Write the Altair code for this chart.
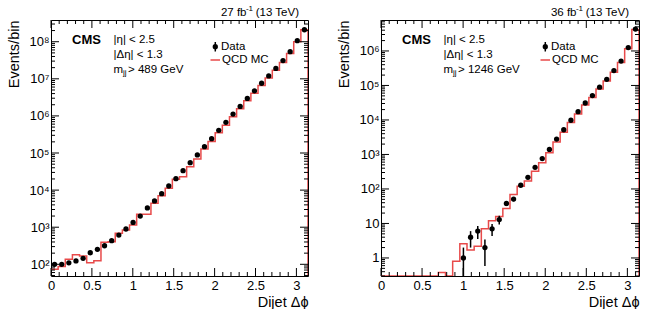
import altair as alt
import numpy as np
import pandas as pd

FONT = "Liberation Sans"
RED = "#e84a4a"

# 36 bins of 5 degrees in dijet delta-phi
N_BINS = 36
edges = np.linspace(0.0, np.pi, N_BINS + 1)
centers = 0.5 * (edges[:-1] + edges[1:])

# m_jj > 489 GeV, 27 fb^-1
low_mass_data = [100, 100, 110, 123, 145, 205, 254, 316, 434, 614, 895, 1350,
                 1990, 3300, 5100, 8000, 12900, 20400, 33500, 55000, 89000,
                 148000, 244000, 410000, 670000, 1.12e6, 1.8e6, 2.97e6, 4.75e6,
                 7.6e6, 1.2e7, 1.9e7, 3.1e7, 5.4e7, 1.07e8, 2.1e8]
low_mass_mc = [74, 87, 136, 182, 167, 110, 125, 392, 405, 690, 840, 1150,
               2230, 2230, 4400, 7100, 11300, 19500, 23000, 42500, 69000,
               128000, 205000, 350000, 560000, 950000, 1.55e6, 2.55e6, 4.1e6,
               6.6e6, 1.05e7, 1.7e7, 2.75e7, 4.8e7, 1.0e8, 2.1e8]

# m_jj > 1246 GeV, 36 fb^-1
high_mass_data = [0, 0, 0, 0, 0, 0, 0, 0, 0, 0, 0, 1,
                  4, 6, 2, 7, 13, 38, 51, 128, 218, 425,
                  760, 1400, 2800, 5200, 9800, 17400, 31000, 51000, 89000,
                  151000, 270000, 510000, 1.25e6, 4.3e6]
high_mass_mc = [0, 0, 0, 0, 0, 0, 0, 0, 0.38, 0, 0.8, 2.6,
                1.7, 2.2, 7, 12, 16, 27, 69, 120, 170, 325,
                575, 1120, 2300, 4400, 8400, 15000, 27000, 45000, 79000,
                135000, 240000, 460000, 1.15e6, 4.2e6]

SUP = ["1", "10", "10\u00b2", "10\u00b3", "10\u2074", "10\u2075",
       "10\u2076", "10\u2077", "10\u2078"]
SUP_EXPR = "[" + ",".join("'%s'" % s for s in SUP) + "][round(log(datum.value)/LN10)]"

H = 256
X_MAJOR = [0, 0.5, 1, 1.5, 2, 2.5, 3]
X_MINOR = [round(0.1 * i, 1) for i in range(32) if i % 5 != 0]


def txt(s, x, y, size=11.5, weight="normal", align="left", baseline="middle"):
    return alt.Chart(pd.DataFrame({"t": [s]})).mark_text(
        font=FONT, fontSize=size, fontWeight=weight, align=align,
        baseline=baseline, color="black"
    ).encode(x=alt.value(x), y=alt.value(y), text="t:N")


def panel(data_vals, mc_vals, ymin, ymax, decades, lumi, mjj, W):
    xs = alt.Scale(domain=[0, float(np.pi)], nice=False, zero=False)
    ys = alt.Scale(type="log", domain=[ymin, ymax], nice=False)
    x_axis = alt.Axis(
        title="Dijet \u0394\u03d5", values=X_MAJOR, labelExpr="'' + datum.value",
        ticks=False, domain=False, grid=False, labelFont=FONT, labelFontSize=13,
        labelColor="black", labelPadding=3, labelFlush=False,
        titleFont=FONT, titleFontSize=14.5, titleFontWeight="normal",
        titleColor="black", titleX=W, titleY=26, titleAlign="right",
        titleBaseline="middle",
    )
    y_axis = alt.Axis(
        title="Events/bin", values=[10.0 ** d for d in decades], labelExpr=SUP_EXPR,
        ticks=False, domain=False, grid=False, labelFont=FONT, labelFontSize=13,
        labelColor="black", labelPadding=2, labelFlush=False,
        titleFont=FONT, titleFontSize=14.5, titleFontWeight="normal",
        titleColor="black", titleAngle=270, titleX=-37, titleY=0,
        titleAlign="right", titleBaseline="middle",
    )

    def X(f):
        return alt.X(f, type="quantitative", scale=xs, axis=x_axis)

    def Y(f):
        return alt.Y(f, type="quantitative", scale=ys, axis=y_axis)

    # MC histogram drawn as a step outline, dropping to the floor at pi
    floor = ymin
    mc = np.maximum(np.array(mc_vals, dtype=float), floor)
    px, py = [], []
    for i in range(N_BINS):
        px += [edges[i], edges[i + 1]]
        py += [mc[i], mc[i]]
    px.append(edges[-1])
    py.append(floor)
    mc_df = pd.DataFrame({"x": px, "y": py, "o": range(len(px))})
    mc_line = alt.Chart(mc_df).mark_line(color=RED, strokeWidth=1.5, clip=True).encode(
        x=X("x"), y=Y("y"), order="o:Q")

    n = np.array(data_vals, dtype=float)
    keep = n > 0
    pts = pd.DataFrame({"x": centers[keep], "n": n[keep]})
    pts["lo"] = np.maximum(pts["n"] - np.sqrt(pts["n"]), floor)
    pts["hi"] = pts["n"] + np.sqrt(pts["n"])
    errs = alt.Chart(pts).mark_rule(color="black", strokeWidth=1.5, clip=True).encode(
        x=X("x"), y=Y("lo"), y2="hi")
    dots = alt.Chart(pts).mark_circle(color="black", opacity=1, size=28).encode(
        x=X("x"), y=Y("n"))

    # inward ticks on all four sides
    layers = [mc_line, errs, dots]
    for vals, ln in ((X_MAJOR, 8), (X_MINOR, 4)):
        b = alt.Chart(pd.DataFrame({"v": vals})).mark_rule(color="black", strokeWidth=1)
        layers.append(b.encode(x=X("v"), y=alt.value(H), y2=alt.value(H - ln)))
        layers.append(b.encode(x=X("v"), y=alt.value(0), y2=alt.value(ln)))
    y_major = [10.0 ** d for d in decades]
    y_minor = [k * 10.0 ** d for d in range(decades[0] - 1, decades[-1] + 1)
               for k in range(2, 10) if ymin <= k * 10.0 ** d <= ymax]
    for vals, ln in ((y_major, 8), (y_minor, 4)):
        b = alt.Chart(pd.DataFrame({"v": vals})).mark_rule(color="black", strokeWidth=1)
        layers.append(b.encode(y=Y("v"), x=alt.value(0), x2=alt.value(ln)))
        layers.append(b.encode(y=Y("v"), x=alt.value(W), x2=alt.value(W - ln)))

    # header and selection text
    layers += [
        txt("CMS", 21, 19.5, size=13, weight="bold"),
        txt("|\u03b7| < 2.5", 62.5, 20),
        txt("|\u0394\u03b7| < 1.3", 62.5, 35),
        txt("m", 62.5, 50),
        txt("jj", 72, 53, size=8),
        txt("> %s GeV" % mjj, 77, 50),
        txt("(13 TeV)", 248, -7.5, size=11.5, align="right"),
        txt("-1", 202, -11, size=8, align="right"),
        txt("%s fb" % lumi, 195.5, -7.5, size=11.5, align="right"),
        txt("Data", 170, 26.7, size=11.5),
        txt("QCD MC", 171, 40, size=11.5),
    ]
    one = pd.DataFrame({"k": [0]})
    layers += [
        alt.Chart(one).mark_rule(color="black", strokeWidth=1.5).encode(
            x=alt.value(164.3), y=alt.value(22), y2=alt.value(31.5)),
        alt.Chart(one).mark_circle(color="black", opacity=1, size=28).encode(
            x=alt.value(164.3), y=alt.value(26.7)),
        alt.Chart(one).mark_rule(color=RED, strokeWidth=1.5).encode(
            x=alt.value(159.5), x2=alt.value(169), y=alt.value(40)),
    ]
    return alt.layer(*layers).properties(width=W, height=H)


left = panel(low_mass_data, low_mass_mc, 48.4, 3.85e8, list(range(2, 9)), "27", "489", 257)
right = panel(high_mass_data, high_mass_mc, 0.3, 7.9e6, list(range(0, 7)), "36", "1246", 258)

chart = alt.hconcat(left, right, spacing=73, bounds="flush").properties(
    padding={"left": 5, "top": 4, "right": 5, "bottom": 0},
    background="white",
).configure_view(stroke="black", strokeWidth=1)

chart.save("out.html", embed_options={"renderer": "svg", "actions": False})
